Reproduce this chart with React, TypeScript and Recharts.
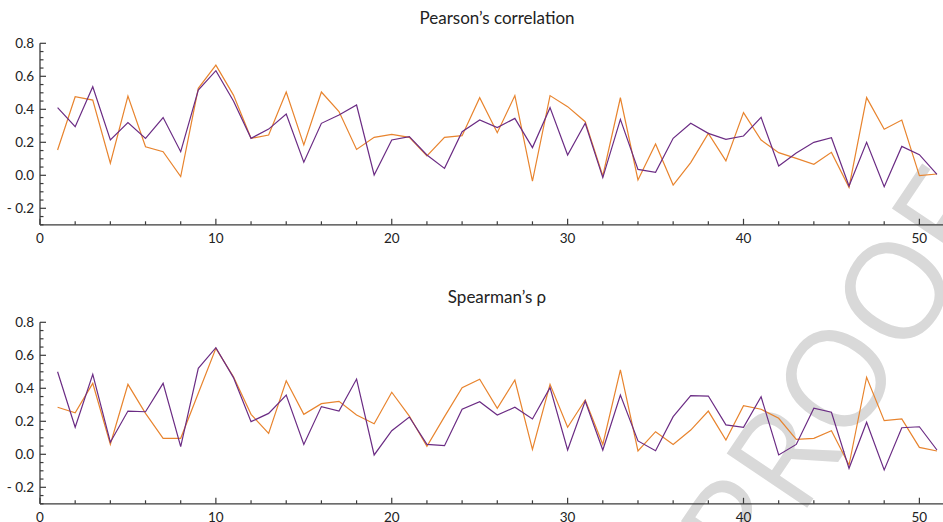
import { Line, LineChart, XAxis, YAxis } from 'recharts';

const runs = [
  1, 2, 3, 4, 5, 6, 7, 8, 9, 10, 11, 12, 13, 14, 15, 16, 17, 18, 19, 20, 21, 22, 23, 24, 25, 26,
  27, 28, 29, 30, 31, 32, 33, 34, 35, 36, 37, 38, 39, 40, 41, 42, 43, 44, 45, 46, 47, 48, 49, 50, 51,
];

const pearsonPurple = [
  0.41, 0.295, 0.537, 0.214, 0.32, 0.224, 0.35, 0.143, 0.517, 0.634, 0.45, 0.224, 0.28, 0.371, 0.079,
  0.315, 0.365, 0.426, 0.002, 0.214, 0.234, 0.123, 0.042, 0.264, 0.335, 0.289, 0.345, 0.168, 0.41,
  0.123, 0.315, -0.014, 0.339, 0.036, 0.018, 0.224, 0.315, 0.254, 0.218, 0.238, 0.351, 0.056, 0.135,
  0.2, 0.228, -0.065, 0.2, -0.069, 0.175, 0.125, 0.005,
];

const pearsonOrange = [
  0.153, 0.476, 0.456, 0.073, 0.48, 0.173, 0.143, -0.008, 0.527, 0.668, 0.486, 0.224, 0.244, 0.505,
  0.184, 0.505, 0.386, 0.157, 0.23, 0.248, 0.23, 0.117, 0.23, 0.24, 0.47, 0.258, 0.483, -0.035, 0.483,
  0.416, 0.325, -0.004, 0.47, -0.028, 0.19, -0.059, 0.077, 0.254, 0.087, 0.38, 0.214, 0.137, 0.103,
  0.067, 0.139, -0.073, 0.471, 0.279, 0.335, -0.002, 0.008,
];

const spearmanPurple = [
  0.5, 0.164, 0.485, 0.073, 0.262, 0.258, 0.43, 0.046, 0.521, 0.646, 0.465, 0.198, 0.248, 0.359, 0.06,
  0.289, 0.262, 0.456, -0.004, 0.143, 0.226, 0.06, 0.052, 0.273, 0.319, 0.238, 0.285, 0.214, 0.404,
  0.026, 0.323, 0.026, 0.359, 0.081, 0.022, 0.228, 0.355, 0.353, 0.178, 0.164, 0.349, -0.004, 0.06,
  0.279, 0.255, -0.085, 0.194, -0.095, 0.161, 0.167, 0.026,
];

const spearmanOrange = [
  0.285, 0.252, 0.43, 0.061, 0.424, 0.248, 0.097, 0.097, 0.37, 0.642, 0.47, 0.242, 0.127, 0.446,
  0.242, 0.307, 0.321, 0.238, 0.185, 0.376, 0.232, 0.048, 0.228, 0.404, 0.455, 0.279, 0.45, 0.03,
  0.424, 0.164, 0.329, 0.06, 0.511, 0.02, 0.137, 0.06, 0.147, 0.262, 0.087, 0.295, 0.273, 0.218,
  0.091, 0.097, 0.143, -0.065, 0.467, 0.204, 0.214, 0.042, 0.02,
];

const xTicks = [0, 2, 4, 6, 8, 10, 12, 14, 16, 18, 20, 22, 24, 26, 28, 30, 32, 34, 36, 38, 40, 42, 44, 46, 48, 50];
const xLabelTicks = [0, 10, 20, 30, 40, 50];
const yTicks = [
  -0.3, -0.25, -0.2, -0.15, -0.1, -0.05, 0, 0.05, 0.1, 0.15, 0.2, 0.25, 0.3, 0.35, 0.4, 0.45, 0.5, 0.55,
  0.6, 0.65, 0.7, 0.75, 0.8,
];
const yLabelTicks = [-0.2, 0, 0.2, 0.4, 0.6, 0.8];

const axisColor = '#3b3b3b';
const purple = '#6b2c84';
const orange = '#e8842e';
const font = 'Lato, "Open Sans", sans-serif';

const has = (list: number[], v: number) => list.some((t) => Math.abs(t - v) < 1e-6);

// negative values are printed as "- 0.2" in the source figure
const fmtY = (v: number) => (v < -1e-9 ? `-\u00a0${Math.abs(v).toFixed(1)}` : Math.abs(v).toFixed(1));

function BottomTick(props: any) {
  const { x, y, payload } = props;
  const major = has(xLabelTicks, payload.value);
  return (
    <g>
      <line x1={x} y1={y} x2={x} y2={y - (major ? 6 : 3.5)} stroke={axisColor} strokeWidth={1.2} />
      {major && (
        <text x={x} y={y + 18} textAnchor="middle" fontSize={13.5} fill="#222" fontFamily={font}>
          {payload.value}
        </text>
      )}
    </g>
  );
}

function TopTick(props: any) {
  const { x, y, payload } = props;
  const major = has(xLabelTicks, payload.value);
  return <line x1={x} y1={y} x2={x} y2={y + (major ? 6 : 3.5)} stroke={axisColor} strokeWidth={1.2} />;
}

function LeftTick(props: any) {
  const { x, y, payload } = props;
  const major = has(yLabelTicks, payload.value);
  return (
    <g>
      <line x1={x} y1={y} x2={x + (major ? 6 : 3.5)} y2={y} stroke={axisColor} strokeWidth={1.2} />
      {major && (
        <text x={x - 6} y={y} dy="0.36em" textAnchor="end" fontSize={13.5} fill="#222" fontFamily={font}>
          {fmtY(payload.value)}
        </text>
      )}
    </g>
  );
}

function CorrPanel({ title, purpleVals, orangeVals, top }: {
  title: string;
  purpleVals: number[];
  orangeVals: number[];
  top: number;
}) {
  const rows = runs.map((run, i) => ({ run, a: purpleVals[i], b: orangeVals[i] }));
  return (
    <div style={{ position: 'absolute', left: 0, top, width: 944, height: 260 }}>
      <div
        style={{
          position: 'absolute',
          left: 397,
          top: 8,
          width: 200,
          height: 20,
          lineHeight: '20px',
          textAlign: 'center',
          fontFamily: font,
          fontSize: 17,
          color: '#222',
          whiteSpace: 'nowrap',
        }}
      >
        {title}
      </div>
      <LineChart width={944} height={260} data={rows} margin={{ top: 43.3, right: 0, bottom: 5.2, left: 0 }}>
        <XAxis
          xAxisId="top"
          orientation="top"
          type="number"
          dataKey="run"
          domain={[0, 51.4]}
          allowDataOverflow
          ticks={xTicks}
          interval={0}
          height={0}
          tickSize={0}
          tickMargin={0}
          tick={<TopTick />}
          axisLine={{ stroke: axisColor, strokeWidth: 1.3 }}
          tickLine={false}
        />
        <XAxis
          type="number"
          dataKey="run"
          domain={[0, 51.4]}
          allowDataOverflow
          ticks={xTicks}
          interval={0}
          height={30}
          tickSize={0}
          tickMargin={0}
          tick={<BottomTick />}
          axisLine={{ stroke: axisColor, strokeWidth: 1.3 }}
          tickLine={false}
        />
        <YAxis
          type="number"
          domain={[-0.3, 0.8]}
          allowDataOverflow
          ticks={yTicks}
          interval={0}
          width={40}
          tickSize={0}
          tickMargin={0}
          tick={<LeftTick />}
          axisLine={{ stroke: axisColor, strokeWidth: 1.3 }}
          tickLine={false}
        />
        <Line type="linear" dataKey="b" stroke={orange} strokeWidth={1.2} dot={false} isAnimationActive={false} />
        <Line type="linear" dataKey="a" stroke={purple} strokeWidth={1.2} dot={false} isAnimationActive={false} />
      </LineChart>
    </div>
  );
}

export default function App() {
  return (
    <div
      style={{
        position: 'absolute',
        left: 0,
        top: 0,
        width: 943,
        height: 522,
        overflow: 'hidden',
        background: '#fff',
      }}
    >
      <div
        style={{
          position: 'absolute',
          left: 836,
          top: 372,
          transform: 'translate(-50%, -50%) rotate(-56deg)',
          fontFamily: '"Open Sans", sans-serif',
          fontSize: 136,
          lineHeight: 1,
          color: '#d9d9d9',
          whiteSpace: 'nowrap',
        }}
      >
        PROOF
      </div>
      <CorrPanel title="Pearson’s correlation" purpleVals={pearsonPurple} orangeVals={pearsonOrange} top={0} />
      <CorrPanel title="Spearman’s ρ" purpleVals={spearmanPurple} orangeVals={spearmanOrange} top={279} />
    </div>
  );
}
